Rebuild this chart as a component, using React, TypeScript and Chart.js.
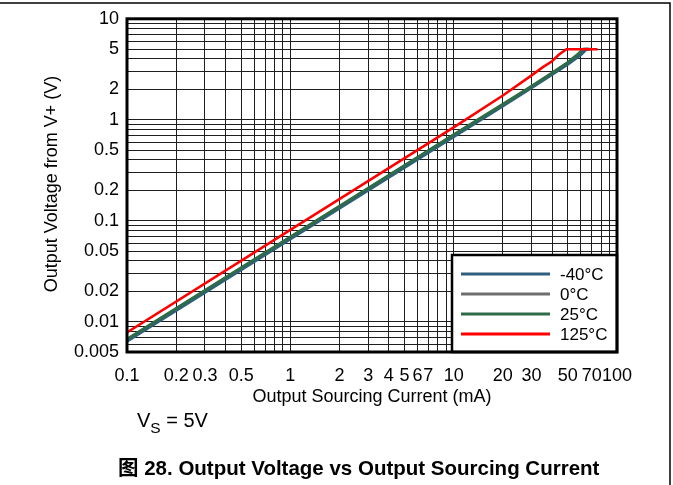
import React, { useEffect, useRef } from 'react';
import { Chart, registerables } from 'chart.js';

Chart.register(...registerables);

// Output sourcing current (mA) and output voltage drop from V+ (V), per temperature
const currentM40 = [0.1, 1, 10, 20, 30, 40, 50, 60, 65, 69];
const voltageM40 = [0.0064, 0.066, 0.68, 1.37, 2.07, 2.8, 3.55, 4.4, 5.0, 5.0];

const current0 = [0.1, 1, 10, 20, 30, 40, 50, 60, 63, 67];
const voltage0 = [0.0066, 0.068, 0.7, 1.4, 2.12, 2.85, 3.65, 4.6, 5.0, 5.0];

const current25 = [0.1, 1, 10, 20, 30, 40, 50, 58, 62, 66];
const voltage25 = [0.0067, 0.069, 0.71, 1.42, 2.15, 2.9, 3.7, 4.5, 5.0, 5.0];

const current125 = [0.1, 1, 10, 20, 30, 35, 40, 44, 49, 76];
const voltage125 = [0.0078, 0.081, 0.84, 1.74, 2.75, 3.3, 3.8, 4.4, 5.0, 5.0];

const seriesNames = ['-40°C', '0°C', '25°C', '125°C'];
const seriesColors = ['#2f5f7e', '#6e6e6e', '#2e6b47', '#ff0000'];

// Labelled ticks
const xTickLabels = [0.1, 0.2, 0.3, 0.5, 1, 2, 3, 4, 5, 6, 7, 10, 20, 30, 50, 70, 100];
const yTickLabels = [10, 5, 2, 1, 0.5, 0.2, 0.1, 0.05, 0.02, 0.01, 0.005];

const FONT = '"Liberation Sans", Arial, Helvetica, sans-serif';

// every 1..9 step of each decade between min and max (grid lines)
function logSteps(min: number, max: number): number[] {
  const out: number[] = [];
  for (let e = Math.floor(Math.log10(min)); e <= Math.ceil(Math.log10(max)); e++) {
    for (let m = 1; m <= 9; m++) {
      const v = Number((m * Math.pow(10, e)).toPrecision(3));
      if (v >= min - 1e-12 && v <= max + 1e-12) out.push(v);
    }
  }
  return out;
}

const toPoints = (xs: number[], ys: number[]) => xs.map((x, i) => ({ x, y: ys[i] }));

const overlayPlugin = {
  id: 'figureOverlay',
  afterDatasetsDraw(chart: any) {
    const { ctx, chartArea: a } = chart;
    ctx.save();

    // legend box
    const lx = 452;
    const ly = 255;
    ctx.fillStyle = '#fff';
    ctx.fillRect(lx, ly, a.right - lx, a.bottom - ly);
    ctx.strokeStyle = '#000';
    ctx.lineWidth = 2.5;
    ctx.strokeRect(lx, ly, a.right - lx, a.bottom - ly);
    ctx.font = `17px ${FONT}`;
    ctx.textBaseline = 'middle';
    ctx.textAlign = 'left';
    seriesNames.forEach((name, i) => {
      const y = 274 + i * 20;
      ctx.strokeStyle = seriesColors[i];
      ctx.lineWidth = 3;
      ctx.beginPath();
      ctx.moveTo(461, y);
      ctx.lineTo(550, y);
      ctx.stroke();
      ctx.fillStyle = '#000';
      ctx.fillText(name, 560, y + 1);
    });

    // plot frame
    ctx.strokeStyle = '#000';
    ctx.lineWidth = 3;
    ctx.strokeRect(a.left, a.top, a.right - a.left, a.bottom - a.top);
    ctx.restore();
  },
  afterDraw(chart: any) {
    const { ctx, chartArea: a } = chart;
    ctx.save();
    ctx.fillStyle = '#000';

    // axis titles
    ctx.font = `18px ${FONT}`;
    ctx.textAlign = 'center';
    ctx.textBaseline = 'middle';
    ctx.fillText('Output Sourcing Current (mA)', (a.left + a.right) / 2, 397);
    ctx.save();
    ctx.translate(52, 184);
    ctx.rotate(-Math.PI / 2);
    ctx.fillText('Output Voltage from V+ (V)', 0, 0);
    ctx.restore();

    // supply note
    ctx.textAlign = 'left';
    ctx.textBaseline = 'alphabetic';
    ctx.font = `20px ${FONT}`;
    ctx.fillText('V', 137, 427);
    const vw = ctx.measureText('V').width;
    ctx.font = `15.5px ${FONT}`;
    ctx.fillText('S', 137 + vw, 433);
    const sw = ctx.measureText('S').width;
    ctx.font = `20px ${FONT}`;
    ctx.fillText(' = 5V', 137 + vw + sw, 427);

    // caption
    ctx.font = `bold 20.5px ${FONT}, "Noto Sans CJK SC"`;
    ctx.fillText('图 28. Output Voltage vs Output Sourcing Current', 118, 475);

    // page frame
    ctx.strokeStyle = '#000';
    ctx.lineWidth = 1.5;
    ctx.beginPath();
    ctx.moveTo(0, 3);
    ctx.lineTo(670, 3);
    ctx.lineTo(670, 485);
    ctx.stroke();
    ctx.restore();
  },
};

export default function App() {
  const canvasRef = useRef<HTMLCanvasElement | null>(null);

  useEffect(() => {
    const canvas = canvasRef.current;
    if (!canvas) return;

    const xGrid = logSteps(0.1, 100);
    const yGrid = logSteps(0.005, 10);
    const gridColor = '#1e1e1e';

    const pairs = [
      [currentM40, voltageM40],
      [current0, voltage0],
      [current25, voltage25],
      [current125, voltage125],
    ];
    // drawing order: red on top, then green, blue, gray
    const drawOrder = [2, 3, 1, 0];

    const chart = new Chart(canvas, {
      type: 'line',
      data: {
        datasets: pairs.map(([xs, ys], i) => ({
          label: seriesNames[i],
          data: toPoints(xs, ys),
          borderColor: seriesColors[i],
          backgroundColor: seriesColors[i],
          borderWidth: i === 3 ? 2.5 : 3,
          pointRadius: 0,
          tension: 0,
          fill: false,
          order: drawOrder[i],
        })),
      },
      options: {
        responsive: false,
        animation: false,
        devicePixelRatio: 1,
        layout: { padding: { left: 0, right: 56, top: 15, bottom: 0 } },
        plugins: {
          legend: { display: false },
          tooltip: { enabled: false },
          title: { display: false },
        },
        scales: {
          x: {
            type: 'logarithmic',
            min: 0.1,
            max: 100,
            afterBuildTicks: (s: any) => {
              s.ticks = xGrid.map((v) => ({ value: v }));
            },
            afterFit: (s: any) => {
              s.height = 133;
            },
            grid: { color: gridColor, lineWidth: 1, drawTicks: false },
            border: { display: false },
            ticks: {
              autoSkip: false,
              maxRotation: 0,
              minRotation: 0,
              padding: 13,
              color: '#000',
              font: { family: FONT, size: 18 },
              callback: (v: any) => (xTickLabels.includes(Number(v)) ? String(v) : ''),
            },
          },
          y: {
            type: 'logarithmic',
            min: 0.005,
            max: 10,
            afterBuildTicks: (s: any) => {
              s.ticks = yGrid.map((v) => ({ value: v }));
            },
            afterFit: (s: any) => {
              s.width = 127;
            },
            grid: { color: gridColor, lineWidth: 1, drawTicks: false },
            border: { display: false },
            ticks: {
              autoSkip: false,
              padding: 8,
              color: '#000',
              font: { family: FONT, size: 18 },
              callback: (v: any) => (yTickLabels.includes(Number(v)) ? String(v) : ''),
            },
          },
        },
      },
      plugins: [overlayPlugin],
    });

    return () => chart.destroy();
  }, []);

  return (
    <div style={{ position: 'absolute', left: 0, top: 0, width: 673, height: 485, background: '#fff' }}>
      <canvas ref={canvasRef} width={673} height={485} style={{ display: 'block', width: 673, height: 485 }} />
    </div>
  );
}
